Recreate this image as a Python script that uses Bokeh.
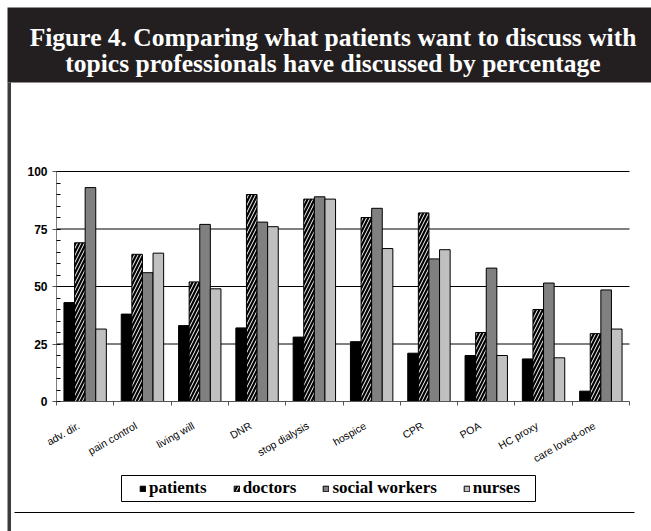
import math
from bokeh.plotting import figure
from bokeh.models import (ColumnDataSource, Range1d, FixedTicker, SingleIntervalTicker,
                          Legend, LegendItem, BoxAnnotation, Label)
from bokeh.transform import dodge
from bokeh.embed import file_html
from bokeh.resources import INLINE

# ---------------- data ----------------
categories = ["adv. dir.", "pain control", "living will", "DNR", "stop dialysis",
              "hospice", "CPR", "POA", "HC proxy", "care loved-one"]
patients = [43, 38, 33, 32, 28, 26, 21, 20, 18.5, 4.5]
doctors = [69, 64, 52, 90, 88, 80, 82, 30, 40, 29.5]
social_workers = [93, 56, 77, 78, 89, 84, 62, 58, 51.5, 48.5]
nurses = [31.5, 64.5, 49, 76, 88, 66.5, 66, 20, 19, 31.5]
series_names = ["patients", "doctors", "social workers", "nurses"]
y_ticks = [0, 25, 50, 75, 100]
title_lines = ["Figure 4. Comparing what patients want to discuss with",
               "topics professionals have discussed by percentage"]

n = len(categories)
centers = [i + 0.5 for i in range(n)]
source = ColumnDataSource(dict(x=centers, patients=patients, doctors=doctors,
                               social=social_workers, nurses=nurses))

# ---------------- layout (picture pixels) ----------------
W, H = 651, 531
OFF = 0
PX_L, PX_R, PX_T, PX_B = 56, 629, 171, 401       # plot area in the picture
ppx = (PX_R - PX_L) / n
ppy = (PX_B - PX_T) / (y_ticks[-1] - y_ticks[0])
x_start = -(PX_L - OFF) / ppx
x_end = n + (OFF + W - PX_R) / ppx
y_start = -(OFF + H - PX_B) / ppy
y_end = y_ticks[-1] + (PX_T - OFF) / ppy

def sx(px):  # picture x -> screen x (from canvas left)
    return px - OFF

def sy(py):  # picture y -> screen y (from canvas bottom)
    return OFF + H - py

p = figure(width=W, height=H, output_backend="svg", toolbar_location=None,
           x_range=Range1d(x_start, x_end), y_range=Range1d(y_start, y_end),
           min_border=0, min_border_left=0, min_border_right=0,
           min_border_top=0, min_border_bottom=0)
p.outline_line_color = None
p.background_fill_color = "white"
p.border_fill_color = "white"
p.xgrid.visible = False
p.ygrid.visible = False

# gridlines
grid_src = ColumnDataSource(dict(y=y_ticks[1:]))
p.segment(x0=0, x1=n, y0="y", y1="y", source=grid_src, line_color="black", line_width=1)

bar_w = 0.185
cols = ["patients", "doctors", "social", "nurses"]
fills = ["#000000", "#000000", "#808080", "#c0c0c0"]
renderers = []
for k, (col, fc) in enumerate(zip(cols, fills)):
    off = (k - 1.5) * bar_w
    kw = {}
    if col == "doctors":
        kw = dict(hatch_pattern="/", hatch_color="white", hatch_scale=7, hatch_weight=1)
    r = p.vbar(x=dodge("x", off, range=p.x_range), top=col, width=bar_w, source=source,
               fill_color=fc, line_color="black", line_width=1, **kw)
    renderers.append(r)

# x axis: labels anchored a little left of each category centre, boundary ticks as minor ticks
label_shift = 6.5 / ppx
label_pos = [c - label_shift for c in centers]
xa = p.xaxis[0]
xa.fixed_location = 0
xa.bounds = (0, n)
xa.ticker = FixedTicker(ticks=label_pos, minor_ticks=list(range(n + 1)))
xa.major_label_overrides = {c: lab for c, lab in zip(label_pos, categories)}
xa.major_tick_in = 0
xa.major_tick_out = 0
xa.minor_tick_in = 0
xa.minor_tick_out = 4
xa.minor_tick_line_color = "#555555"
xa.axis_line_color = "#555555"
xa.major_label_orientation = 0.52
xa.major_label_text_font = "Liberation Sans"
xa.major_label_text_font_size = "10.5px"
xa.major_label_text_color = "black"
xa.major_label_standoff = 19

# y axis
ya = p.yaxis[0]
ya.fixed_location = 0
ya.bounds = (y_ticks[0], y_ticks[-1])
ya.ticker = SingleIntervalTicker(interval=25, num_minor_ticks=5)
ya.major_tick_in = 0
ya.major_tick_out = 4
ya.minor_tick_in = 4
ya.minor_tick_out = 0
ya.axis_line_color = "#808080"
ya.major_tick_line_color = "#555555"
ya.minor_tick_line_color = "black"
ya.major_label_text_font = "Liberation Sans"
ya.major_label_text_font_style = "bold"
ya.major_label_text_font_size = "12px"
ya.major_label_text_color = "black"
ya.major_label_standoff = 5

def sbox(left, right, top, bottom, **kw):
    b = BoxAnnotation(left=left, right=right, top=top, bottom=bottom,
                      left_units="screen", right_units="screen",
                      top_units="screen", bottom_units="screen", **kw)
    p.add_layout(b)
    return b

# legend
items = [LegendItem(label=nm, renderers=[r]) for nm, r in zip(series_names, renderers)]
legend = Legend(items=items, orientation="horizontal", location=(sx(139), sy(498)),
                padding=0, spacing=26, label_standoff=3, glyph_width=7, glyph_height=7,
                border_line_color=None, background_fill_alpha=0, margin=0,
                label_text_font="Liberation Serif", label_text_font_style="bold",
                label_text_font_size="17px", label_height=20, label_text_color="black")
p.add_layout(legend, "center")

# legend frame
sbox(sx(121), sx(535), sy(475), sy(501), fill_color=None, fill_alpha=0,
     line_color="black", line_width=1, line_alpha=1, line_dash="solid")
# title band
sbox(sx(7), sx(700), sy(7), sy(82), fill_color="#231f20", fill_alpha=1, line_color=None)
# left border
sbox(sx(7), sx(10.5), sy(82), sy(560), fill_color="#3c3c3c", fill_alpha=1, line_color=None)
# bottom rule
sbox(sx(14), sx(634), sy(511.5), sy(512.5), fill_color="black", fill_alpha=1, line_color=None)

for txt, yb in zip(title_lines, [37, 63]):
    p.add_layout(Label(x=sx(332.5), y=sy(yb), x_units="screen", y_units="screen", text=txt,
                       text_align="center", text_baseline="alphabetic",
                       text_font="Liberation Serif", text_font_style="bold",
                       text_font_size="25.5px", text_color="white"))

open("out.html", "w").write(file_html(p, INLINE))
